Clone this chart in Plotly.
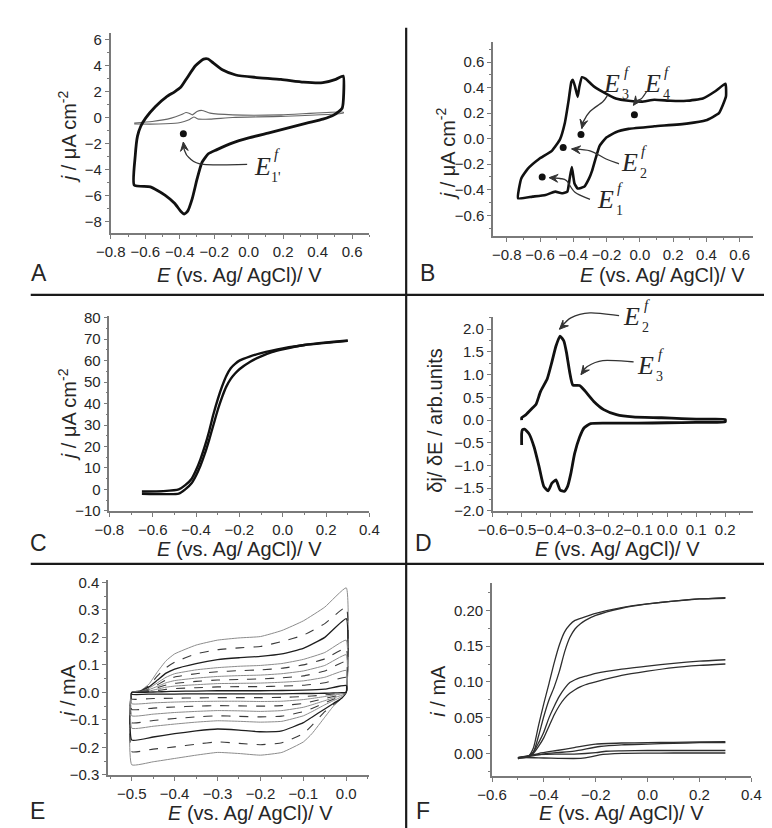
import plotly.graph_objects as go

W, H = 772, 828

# ---------------- data ----------------
# Panel A
A_thick_E = [-0.664, -0.658, -0.645, -0.626, -0.598, -0.542, -0.477, -0.43, -0.393, -0.355, -0.309, -0.262, -0.235,
             -0.206, -0.15, -0.075, 0.037, 0.187, 0.318, 0.43, 0.505, 0.548, 0.551, 0.542, 0.495, 0.43, 0.336, 0.224,
             0.112, 0.0, -0.093, -0.187, -0.234, -0.271, -0.299, -0.327, -0.355, -0.374, -0.393, -0.43, -0.486, -0.57,
             -0.664]
A_thick_j = [-5.22, -2.95, -1.44, -0.68, -0.05, 0.83, 1.59, 1.97, 2.34, 3.1, 3.98, 4.49, 4.5, 4.21, 3.65, 3.27, 3.09,
             2.93, 2.72, 2.68, 2.93, 3.19, 1.86, 0.71, 0.2, -0.13, -0.43, -0.82, -1.2, -1.58, -1.96, -2.5, -2.8, -3.46,
             -4.72, -6.23, -7.24, -7.44, -7.24, -6.61, -5.98, -5.35, -5.22]
A_thin_E = [-0.664, -0.56, -0.449, -0.393, -0.364, -0.346, -0.327, -0.30, -0.271, -0.224, -0.093, 0.187, 0.548,
            0.548, 0.187, -0.093, -0.224, -0.29, -0.318, -0.346, -0.374, -0.411, -0.523, -0.664]
A_thin_j = [-0.43, -0.31, -0.05, 0.2, 0.38, 0.33, 0.2, 0.46, 0.54, 0.33, 0.2, 0.2, 0.41,
            0.33, 0.08, 0.0, -0.13, -0.13, 0.03, -0.18, -0.31, -0.43, -0.51, -0.51]
A_dot_E = [-0.379]
A_dot_j = [-1.25]

# Panel B
B_E = [-0.732, -0.713, -0.674, -0.606, -0.529, -0.48, -0.451, -0.428, -0.412, -0.403, -0.389, -0.374, -0.364,
       -0.348, -0.325, -0.277, -0.223, -0.145, -0.068, 0.01, 0.087, 0.184, 0.281, 0.378, 0.455, 0.514, 0.517,
       0.475, 0.397, 0.281, 0.087, -0.068, -0.145, -0.203, -0.242, -0.265, -0.287, -0.306, -0.335, -0.374,
       -0.393, -0.409, -0.422, -0.436, -0.47, -0.509, -0.567, -0.645, -0.732]
B_j = [-0.467, -0.313, -0.236, -0.159, -0.095, -0.005, 0.123, 0.302, 0.444, 0.462, 0.405, 0.328, 0.405, 0.482,
       0.469, 0.41, 0.367, 0.315, 0.297, 0.29, 0.305, 0.297, 0.297, 0.315, 0.374, 0.431, 0.33, 0.2, 0.144, 0.118,
       0.097, 0.077, 0.051, 0.008, -0.056, -0.15, -0.25, -0.313, -0.377, -0.39, -0.351, -0.223, -0.313, -0.415,
       -0.428, -0.415, -0.441, -0.454, -0.467]
B_dot_E = [-0.587, -0.461, -0.354, -0.033]
B_dot_j = [-0.30, -0.069, 0.033, 0.187]

# Panel C
C_E = [-0.65, -0.55, -0.48, -0.45, -0.42, -0.40, -0.38, -0.36, -0.34, -0.32, -0.30, -0.28, -0.26, -0.24, -0.22,
       -0.20, -0.15, -0.10, -0.05, 0.0, 0.1, 0.2, 0.3]
C_j1 = [-1, -0.8, 0, 2, 5, 9, 14, 20, 27, 35, 42, 48, 53, 56.5, 58.5, 60, 62, 63.5, 64.7, 65.7, 67.3, 68.3, 69.2]
C_j2 = [-2, -2.2, -2, 0, 3, 6.5, 11, 16.5, 23, 30, 37, 43, 48, 51.5, 54, 56, 59.5, 62, 64, 65.3, 67.3, 68.5, 69.4]

# Panel D
D_E = [-0.5, -0.5, -0.485, -0.462, -0.451, -0.435, -0.412, -0.396, -0.382, -0.368, -0.355, -0.346, -0.335, -0.324,
       -0.301, -0.285, -0.252, -0.218, -0.174, -0.118, -0.019, 0.05, 0.1, 0.15, 0.2, 0.2, 0.1, 0.0, -0.1, -0.2,
       -0.263, -0.285, -0.301, -0.318, -0.331, -0.342, -0.354, -0.368, -0.382, -0.396, -0.409, -0.424, -0.44,
       -0.457, -0.474, -0.49, -0.498, -0.5, -0.5]
D_val = [0.0, 0.05, 0.12, 0.27, 0.34, 0.63, 0.91, 1.28, 1.63, 1.85, 1.74, 1.49, 1.06, 0.77, 0.76, 0.66, 0.41, 0.23,
         0.12, 0.07, 0.05, 0.03, 0.02, 0.02, 0.01, -0.04, -0.05, -0.06, -0.07, -0.07, -0.08, -0.17, -0.38, -0.74,
         -1.18, -1.46, -1.57, -1.54, -1.32, -1.39, -1.56, -1.46, -1.03, -0.6, -0.31, -0.2, -0.22, -0.3, -0.55]

# Panel E : nested CV loops (forward branch on E_top_x, reverse branch on E_bot_x)
E_top_x = [-0.5, -0.48, -0.46, -0.44, -0.42, -0.40, -0.35, -0.30, -0.25, -0.20, -0.15, -0.10, -0.05, 0.0]
E_bot_x = [0.0, -0.01, -0.03, -0.05, -0.08, -0.10, -0.15, -0.20, -0.25, -0.30, -0.35, -0.40, -0.45, -0.5]
E1_top = [0.0, 0.006, 0.03, 0.075, 0.115, 0.14, 0.172, 0.19, 0.198, 0.203, 0.225, 0.26, 0.31, 0.38]
E1_bot = [0.0, -0.02, -0.05, -0.09, -0.15, -0.18, -0.218, -0.228, -0.222, -0.218, -0.228, -0.24, -0.252, -0.263]
E2_top = [0.0, 0.005, 0.025, 0.06, 0.09, 0.11, 0.14, 0.155, 0.162, 0.167, 0.185, 0.208, 0.25, 0.31]
E2_bot = [0.0, -0.02, -0.045, -0.07, -0.12, -0.15, -0.183, -0.19, -0.185, -0.18, -0.188, -0.198, -0.206, -0.215]
E3_top = [0.0, 0.004, 0.02, 0.045, 0.07, 0.085, 0.105, 0.119, 0.126, 0.131, 0.14, 0.16, 0.2, 0.268]
E3_bot = [0.0, -0.02, -0.04, -0.06, -0.09, -0.11, -0.14, -0.143, -0.137, -0.133, -0.14, -0.15, -0.162, -0.173]
E4_top = [0.0, 0.003, 0.015, 0.035, 0.055, 0.068, 0.082, 0.09, 0.095, 0.098, 0.105, 0.12, 0.145, 0.19]
E4_bot = [0.0, -0.015, -0.03, -0.045, -0.07, -0.085, -0.105, -0.108, -0.105, -0.103, -0.108, -0.115, -0.123, -0.13]
E5_top = [0.0, 0.003, 0.012, 0.028, 0.045, 0.056, 0.068, 0.075, 0.079, 0.082, 0.088, 0.1, 0.122, 0.16]
E5_bot = [0.0, -0.012, -0.025, -0.038, -0.058, -0.07, -0.086, -0.089, -0.087, -0.085, -0.089, -0.095, -0.102, -0.11]
E6_top = [0.0, 0.002, 0.01, 0.022, 0.035, 0.043, 0.052, 0.058, 0.061, 0.063, 0.068, 0.078, 0.098, 0.137]
E6_bot = [0.0, -0.01, -0.02, -0.03, -0.045, -0.054, -0.066, -0.069, -0.067, -0.066, -0.069, -0.073, -0.079, -0.085]
E7_top = [0.0, 0.002, 0.008, 0.017, 0.027, 0.033, 0.04, 0.045, 0.047, 0.049, 0.053, 0.06, 0.078, 0.113]
E7_bot = [0.0, -0.008, -0.015, -0.022, -0.033, -0.04, -0.048, -0.05, -0.049, -0.048, -0.05, -0.053, -0.057, -0.062]
E8_top = [0.0, 0.001, 0.005, 0.012, 0.019, 0.023, 0.028, 0.032, 0.033, 0.034, 0.037, 0.042, 0.055, 0.08]
E8_bot = [0.0, -0.005, -0.01, -0.015, -0.022, -0.026, -0.032, -0.033, -0.032, -0.032, -0.033, -0.035, -0.038, -0.041]
E9_top = [0.0, 0.001, 0.003, 0.007, 0.011, 0.014, 0.017, 0.02, 0.021, 0.021, 0.023, 0.026, 0.035, 0.055]
E9_bot = [0.0, -0.003, -0.006, -0.009, -0.013, -0.015, -0.018, -0.019, -0.019, -0.019, -0.02, -0.021, -0.022, -0.024]
E10_top = [0.0, 0.0, 0.001, 0.002, 0.003, 0.004, 0.005, 0.006, 0.006, 0.006, 0.007, 0.008, 0.012, 0.025]
E10_bot = [0.0, -0.001, -0.002, -0.003, -0.004, -0.004, -0.005, -0.005, -0.005, -0.005, -0.005, -0.006, -0.006, -0.007]
E_styles = ['gray', 'dash', 'black', 'gray', 'dash', 'gray', 'dash', 'gray', 'dash', 'black']

# Panel F
F_x1 = [-0.5, -0.46, -0.44, -0.42, -0.40, -0.38, -0.36, -0.34, -0.32, -0.30, -0.28, -0.25, -0.2, -0.1, 0.0, 0.1, 0.2, 0.3]
F_y1a = [-0.007, -0.004, 0.008, 0.04, 0.07, 0.098, 0.127, 0.152, 0.17, 0.18, 0.186, 0.19, 0.196, 0.204, 0.209, 0.213, 0.216, 0.218]
F_x2 = [-0.5, -0.46, -0.44, -0.42, -0.40, -0.38, -0.36, -0.34, -0.32, -0.30, -0.28, -0.26, -0.24, -0.2, -0.1, 0.0, 0.1, 0.2, 0.3]
F_y1b = [-0.006, -0.004, 0.002, 0.025, 0.052, 0.075, 0.093, 0.115, 0.142, 0.162, 0.174, 0.181, 0.186, 0.193, 0.203, 0.209, 0.213, 0.216, 0.217]
F_y2a = [-0.006, -0.004, 0.002, 0.015, 0.03, 0.05, 0.066, 0.08, 0.091, 0.099, 0.103, 0.106, 0.108, 0.112, 0.118, 0.122, 0.126, 0.129, 0.131]
F_y2b = [-0.007, -0.005, 0.0, 0.01, 0.022, 0.038, 0.054, 0.067, 0.077, 0.084, 0.089, 0.093, 0.096, 0.100, 0.109, 0.115, 0.12, 0.123, 0.125]
F_x3a = [-0.5, -0.45, -0.418, -0.35, -0.283, -0.2, -0.1, 0.0, 0.1, 0.2, 0.3]
F_y3a = [-0.006, -0.003, 0.0, 0.004, 0.008, 0.013, 0.0145, 0.015, 0.0155, 0.016, 0.0165]
F_x3b = [-0.5, -0.45, -0.406, -0.35, -0.283, -0.185, -0.1, 0.0, 0.1, 0.2, 0.3]
F_y3b = [-0.006, -0.004, -0.001, 0.001, 0.003, 0.0096, 0.012, 0.013, 0.014, 0.015, 0.015]
F_x3c = [-0.5, -0.443, -0.35, -0.283, -0.2, -0.16, -0.1, 0.0, 0.1, 0.2, 0.3]
F_y3c = [-0.006, -0.002, -0.001, -0.001, 0.001, 0.003, 0.0035, 0.004, 0.004, 0.004, 0.004]
F_x3d = [-0.5, -0.49, -0.4, -0.345, -0.258, -0.22, -0.185, -0.098, 0.0, 0.1, 0.2, 0.3]
F_y3d = [-0.008, -0.006, -0.0065, -0.007, -0.007, -0.005, -0.002, 0.0, 0.0003, 0.0005, 0.0005, 0.0005]

# ---------------- layout geometry (pixels) ----------------
BOX = {
    'A': dict(l=90.7, r=358, t=18, b=222, xr=[-0.8, 0.70], yr=[-8.9, 6.53]),
    'B': dict(l=486, r=754, t=28, b=225, xr=[-0.881, 0.677], yr=[-0.762, 0.754]),
    'C': dict(l=89.3, r=358, t=307, b=505, xr=[-0.8, 0.4], yr=[-10, 80.6]),
    'D': dict(l=485.3, r=754, t=308, b=505, xr=[-0.6, 0.294], yr=[-2.0, 2.26]),
    'E': dict(l=88, r=358, t=575, b=774, xr=[-0.555, 0.054], yr=[-0.3, 0.41]),
    'F': dict(l=484.7, r=752.7, t=578, b=775, xr=[-0.6, 0.4], yr=[-0.0316, 0.239]),
}
AXN = {'A': '', 'B': '2', 'C': '3', 'D': '4', 'E': '5', 'F': '6'}
TICKS = {  # x dtick, x fmt, x minor, y dtick, y fmt, y minor
    'A': (0.2, '.1f', 0.1, 2, 'd', 1),
    'B': (0.2, '.1f', 0.1, 0.2, '.1f', 0.1),
    'C': (0.2, '.1f', 0.1, 10, 'd', 5),
    'D': (0.1, '.1f', 0.05, 0.5, '.1f', 0.25),
    'E': (0.1, '.1f', 0.05, 0.1, '.1f', 0.05),
    'F': (0.2, '.1f', 0.1, 0.05, '.2f', 0.025),
}

def to_px(p, x, y):
    b = BOX[p]
    px = b['l'] + (x - b['xr'][0]) / (b['xr'][1] - b['xr'][0]) * (b['r'] - b['l'])
    py = b['b'] - (y - b['yr'][0]) / (b['yr'][1] - b['yr'][0]) * (b['b'] - b['t'])
    return px, py

def pp(pt):
    return '{:.5f},{:.5f}'.format(pt[0] / W, 1 - pt[1] / H)

fig = go.Figure()
AX_COL = '#7a7a7a'
TXT = '#262626'
SANS = 'Arial, Liberation Sans, sans-serif'
SERIF = 'Liberation Serif, Times New Roman, serif'

layout = dict(width=W, height=H, margin=dict(l=0, r=0, t=0, b=0), paper_bgcolor='white',
              plot_bgcolor='white', showlegend=False)
for p, b in BOX.items():
    n = AXN[p]
    xd, xf, xm, yd, yf, ym = TICKS[p]
    common = dict(showline=True, linecolor=AX_COL, linewidth=1.6, ticks='outside', ticklen=4, tickwidth=1.2,
                  tickcolor=AX_COL, tickfont=dict(family=SANS, size=15, color=TXT), showgrid=False,
                  zeroline=False, tick0=0, fixedrange=True, tickangle=0)
    layout['xaxis' + n] = dict(common, domain=[b['l'] / W, b['r'] / W], range=b['xr'], dtick=xd, tickformat=xf,
                               anchor='y' + n,
                               minor=dict(ticks='outside', ticklen=2, dtick=xm, tick0=0, tickcolor=AX_COL,
                                          showgrid=False))
    layout['yaxis' + n] = dict(common, domain=[1 - b['b'] / H, 1 - b['t'] / H], range=b['yr'], dtick=yd,
                               tickformat=yf, anchor='x' + n,
                               minor=dict(ticks='outside', ticklen=2, dtick=ym, tick0=0, tickcolor=AX_COL,
                                          showgrid=False))
fig.update_layout(**layout)

def line(p, x, y, color='#111', width=2.8, dash='solid', smoothing=0.6):
    n = AXN[p]
    fig.add_trace(go.Scatter(x=x, y=y, mode='lines', xaxis='x' + n, yaxis='y' + n,
                             line=dict(color=color, width=width, dash=dash, shape='spline', smoothing=smoothing),
                             hoverinfo='skip'))

def dots(p, x, y):
    n = AXN[p]
    fig.add_trace(go.Scatter(x=x, y=y, mode='markers', xaxis='x' + n, yaxis='y' + n,
                             marker=dict(color='#111', size=7), hoverinfo='skip'))

# A
line('A', A_thin_E, A_thin_j, color='#666', width=1.1, smoothing=0.5)
line('A', A_thick_E, A_thick_j, width=2.8, smoothing=0.5)
dots('A', A_dot_E, A_dot_j)
# B
line('B', B_E, B_j, width=2.6, smoothing=0.4)
dots('B', B_dot_E, B_dot_j)
# C
line('C', C_E, C_j1, width=2.4)
line('C', C_E, C_j2, width=2.4)
# D
line('D', D_E, D_val, width=2.8, smoothing=0.5)
# E
E_tops = [E1_top, E2_top, E3_top, E4_top, E5_top, E6_top, E7_top, E8_top, E9_top, E10_top]
E_bots = [E1_bot, E2_bot, E3_bot, E4_bot, E5_bot, E6_bot, E7_bot, E8_bot, E9_bot, E10_bot]
STY = {'gray': ('#8c8c8c', 1.0, 'solid'), 'dash': ('#3a3a3a', 1.1, 'dash'), 'black': ('#1e1e1e', 1.3, 'solid')}
for top, bot, st in zip(E_tops, E_bots, E_styles):
    c, w, d = STY[st]
    line('E', E_top_x + E_bot_x + [E_top_x[0]], top + bot + [top[0]], color=c, width=w, dash=d, smoothing=0.4)
# F
FC = '#2e2e2e'
for xx, yy in [(F_x1, F_y1a), (F_x2, F_y1b), (F_x2, F_y2a), (F_x2, F_y2b), (F_x3a, F_y3a), (F_x3b, F_y3b),
               (F_x3c, F_y3c), (F_x3d, F_y3d)]:
    line('F', xx, yy, color=FC, width=1.3, smoothing=0.6)

# ---------------- annotations ----------------
anns = []
shapes = []

# curved arrows (decorations)
ARROWS = [
    ('A', [(-0.009, -3.62), (-0.262, -3.62), (-0.346, -3.11), (-0.374, -2.47), (-0.379, -1.9)]),
    ('B', [(-0.30, -0.475), (-0.39, -0.42), (-0.44, -0.33), (-0.48, -0.312), (-0.545, -0.305)]),
    ('B', [(-0.126, -0.197), (-0.203, -0.159), (-0.3, -0.095), (-0.41, -0.08)]),
    ('B', [(-0.194, 0.341), (-0.223, 0.29), (-0.3, 0.213), (-0.339, 0.136), (-0.349, 0.08)]),
    ('B', [(0.039, 0.367), (0.01, 0.315), (-0.019, 0.297), (-0.039, 0.262)]),
    ('D', [(-0.165, 2.30), (-0.265, 2.36), (-0.331, 2.25), (-0.37, 2.0)]),
    ('D', [(-0.115, 1.28), (-0.221, 1.31), (-0.276, 1.17), (-0.296, 1.0)]),
]
ARC = '#333333'
for p, pts in ARROWS:
    P = [to_px(p, x, y) for x, y in pts]
    d = 'M' + pp(P[0])
    for i in range(len(P) - 1):
        p0 = P[i - 1] if i > 0 else P[i]
        p1, p2 = P[i], P[i + 1]
        p3 = P[i + 2] if i + 2 < len(P) else P[i + 1]
        c1 = (p1[0] + (p2[0] - p0[0]) / 6, p1[1] + (p2[1] - p0[1]) / 6)
        c2 = (p2[0] - (p3[0] - p1[0]) / 6, p2[1] - (p3[1] - p1[1]) / 6)
        d += ' C' + pp(c1) + ' ' + pp(c2) + ' ' + pp(p2)
    shapes.append(dict(type='path', path=d, xref='paper', yref='paper', line=dict(color=ARC, width=1.3)))
    # arrow head
    tip, prev = P[-1], P[-2]
    dx, dy = prev[0] - tip[0], prev[1] - tip[1]
    L = (dx * dx + dy * dy) ** 0.5 or 1
    ux, uy = dx / L, dy / L
    vx, vy = -uy, ux
    w1 = (tip[0] + 9 * ux + 4 * vx, tip[1] + 9 * uy + 4 * vy)
    w2 = (tip[0] + 9 * ux - 4 * vx, tip[1] + 9 * uy - 4 * vy)
    nt = (tip[0] + 5.5 * ux, tip[1] + 5.5 * uy)
    shapes.append(dict(type='path', path='M' + pp(tip) + ' L' + pp(w1) + ' L' + pp(nt) + ' L' + pp(w2) + ' Z',
                       xref='paper', yref='paper', fillcolor=ARC, line=dict(color=ARC, width=1)))

# E^f labels
LABELS = [('A', 0.079, -3.75, "1'"), ('B', -0.169, 0.431, '3'), ('B', 0.074, 0.431, '4'),
          ('B', -0.064, -0.19, '2'), ('B', -0.207, -0.48, '1'), ('D', -0.121, 2.28, '2'), ('D', -0.074, 1.20, '3')]
for p, x, y, sub in LABELS:
    px, py = to_px(p, x, y)
    X, Y = px / W, 1 - py / H
    anns.append(dict(xref='paper', yref='paper', x=X, y=Y, text='<i>E</i>', showarrow=False,
                     font=dict(family=SERIF, size=26, color=TXT), xanchor='center', yanchor='middle'))
    anns.append(dict(xref='paper', yref='paper', x=X, y=Y, text='<i>f</i>', showarrow=False, xshift=15, yshift=12,
                     font=dict(family=SERIF, size=15, color=TXT), xanchor='center', yanchor='middle'))
    anns.append(dict(xref='paper', yref='paper', x=X, y=Y, text=sub, showarrow=False, xshift=14, yshift=-11,
                     font=dict(family=SERIF, size=14, color=TXT), xanchor='center', yanchor='middle'))

# axis titles
XT = '<i>E</i> (vs. Ag/ AgCl)/ V'
XTITLES = [(224, 265), (661, 265), (224, 544), (614, 544), (235, 813), (619, 813)]
for px, py in XTITLES:
    anns.append(dict(xref='paper', yref='paper', x=px / W, y=1 - py / H, text=XT, showarrow=False,
                     font=dict(family=SANS, size=20, color=TXT), xanchor='center', yanchor='middle'))
JT = '<i>j</i> / μA cm<sup>-2</sup>'
YTITLES = [(46, 124, JT), (437, 141, JT), (46, 407, JT), (425, 413, 'δj/ δE / arb.units'),
           (46, 688, '<i>i</i> / mA'), (428, 688, '<i>i</i> / mA')]
for px, py, t in YTITLES:
    anns.append(dict(xref='paper', yref='paper', x=px / W, y=1 - py / H, text=t, showarrow=False, textangle=-90,
                     font=dict(family=SANS, size=20, color=TXT), xanchor='center', yanchor='middle'))
# panel letters
for t, px, py in [('A', 17, 263), ('B', 418, 263), ('C', 16, 538), ('D', 414, 538), ('E', 15, 811), ('F', 413, 811)]:
    anns.append(dict(xref='paper', yref='paper', x=px / W, y=1 - py / H, text=t, showarrow=False,
                     font=dict(family=SANS, size=23, color=TXT), xanchor='center', yanchor='middle'))

# panel separators
shapes.append(dict(type='line', xref='paper', yref='paper', x0=396 / W, x1=396 / W, y0=0, y1=1 - 13 / H,
                   line=dict(color='#1a1a1a', width=2.2)))
for py in (285, 559):
    shapes.append(dict(type='line', xref='paper', yref='paper', x0=8 / W, x1=1, y0=1 - py / H, y1=1 - py / H,
                       line=dict(color='#1a1a1a', width=2.2)))

fig.update_layout(annotations=anns, shapes=shapes)
fig.write_html('out.html')
